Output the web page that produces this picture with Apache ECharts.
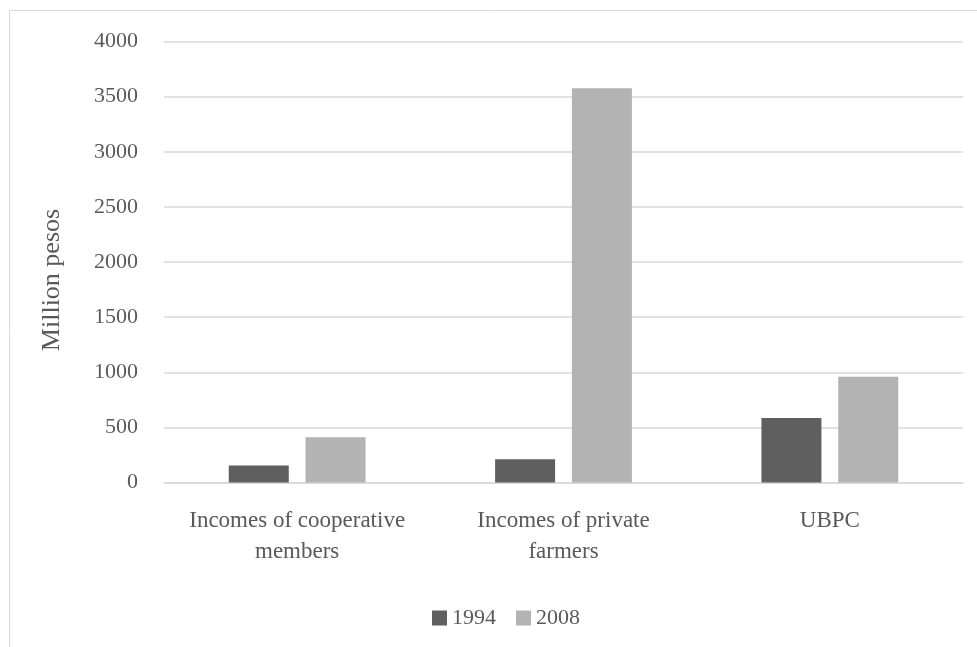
<!DOCTYPE html>
<html>
<head>
<meta charset="utf-8">
<script src="https://cdn.jsdelivr.net/npm/echarts@6/dist/echarts.min.js"></script>
<style>html,body{margin:0;padding:0;background:#fff}#c{width:977px;height:647px}</style>
</head>
<body>
<div id="c"></div>
<script>
var categories = ['Incomes of cooperative\nmembers', 'Incomes of private\nfarmers', 'UBPC'];
var seriesNames = ['1994', '2008'];
var values1994 = [155, 212, 585];
var values2008 = [410, 3575, 960];
var yTicks = { min: 0, max: 4000, interval: 500 };
var yAxisTitle = 'Million pesos';

var FONT = '"Liberation Serif", "DejaVu Serif", serif';
var TXT = '#595959';
var chart = echarts.init(document.getElementById('c'), null, { renderer: 'canvas' });
chart.setOption({
  animation: false,
  backgroundColor: '#fff',
  grid: { left: 164, right: 14, top: 41.5, bottom: 647 - 482.5, containLabel: false },
  graphic: [
    { type: 'rect', shape: { x: 9.5, y: 10.5, width: 994, height: 700 }, style: { fill: 'none', stroke: '#d9d9d9', lineWidth: 1 }, silent: true },
    { type: 'text', x: 52, y: 280, rotation: Math.PI / 2, style: { text: yAxisTitle, font: '26px ' + FONT, fill: TXT, textAlign: 'center', textVerticalAlign: 'middle' } }
  ],
  legend: {
    data: seriesNames, left: 427, top: 602, itemWidth: 15, itemHeight: 15, itemGap: 20,
    icon: 'rect', textStyle: { fontFamily: FONT, fontSize: 22, color: TXT, padding: 0 }
  },
  xAxis: {
    type: 'category', data: categories,
    axisLine: { show: true, lineStyle: { color: '#d9d9d9', width: 1.5 } },
    axisTick: { show: false },
    axisLabel: { fontFamily: FONT, fontSize: 23, color: TXT, margin: 23, lineHeight: 31, interval: 0 }
  },
  yAxis: {
    type: 'value', min: yTicks.min, max: yTicks.max, interval: yTicks.interval,
    axisLine: { show: false }, axisTick: { show: false },
    splitLine: { lineStyle: { color: '#d9d9d9', width: 1.5 } },
    axisLabel: { fontFamily: FONT, fontSize: 22, color: TXT, margin: 26, formatter: function (v) { return String(v); } }
  },
  series: [
    { name: seriesNames[0], type: 'bar', data: values1994, barWidth: 60, barGap: '28%', itemStyle: { color: '#5f5f5f' } },
    { name: seriesNames[1], type: 'bar', data: values2008, barWidth: 60, barGap: '28%', itemStyle: { color: '#b3b3b3' } }
  ]
});
</script>
</body>
</html>
